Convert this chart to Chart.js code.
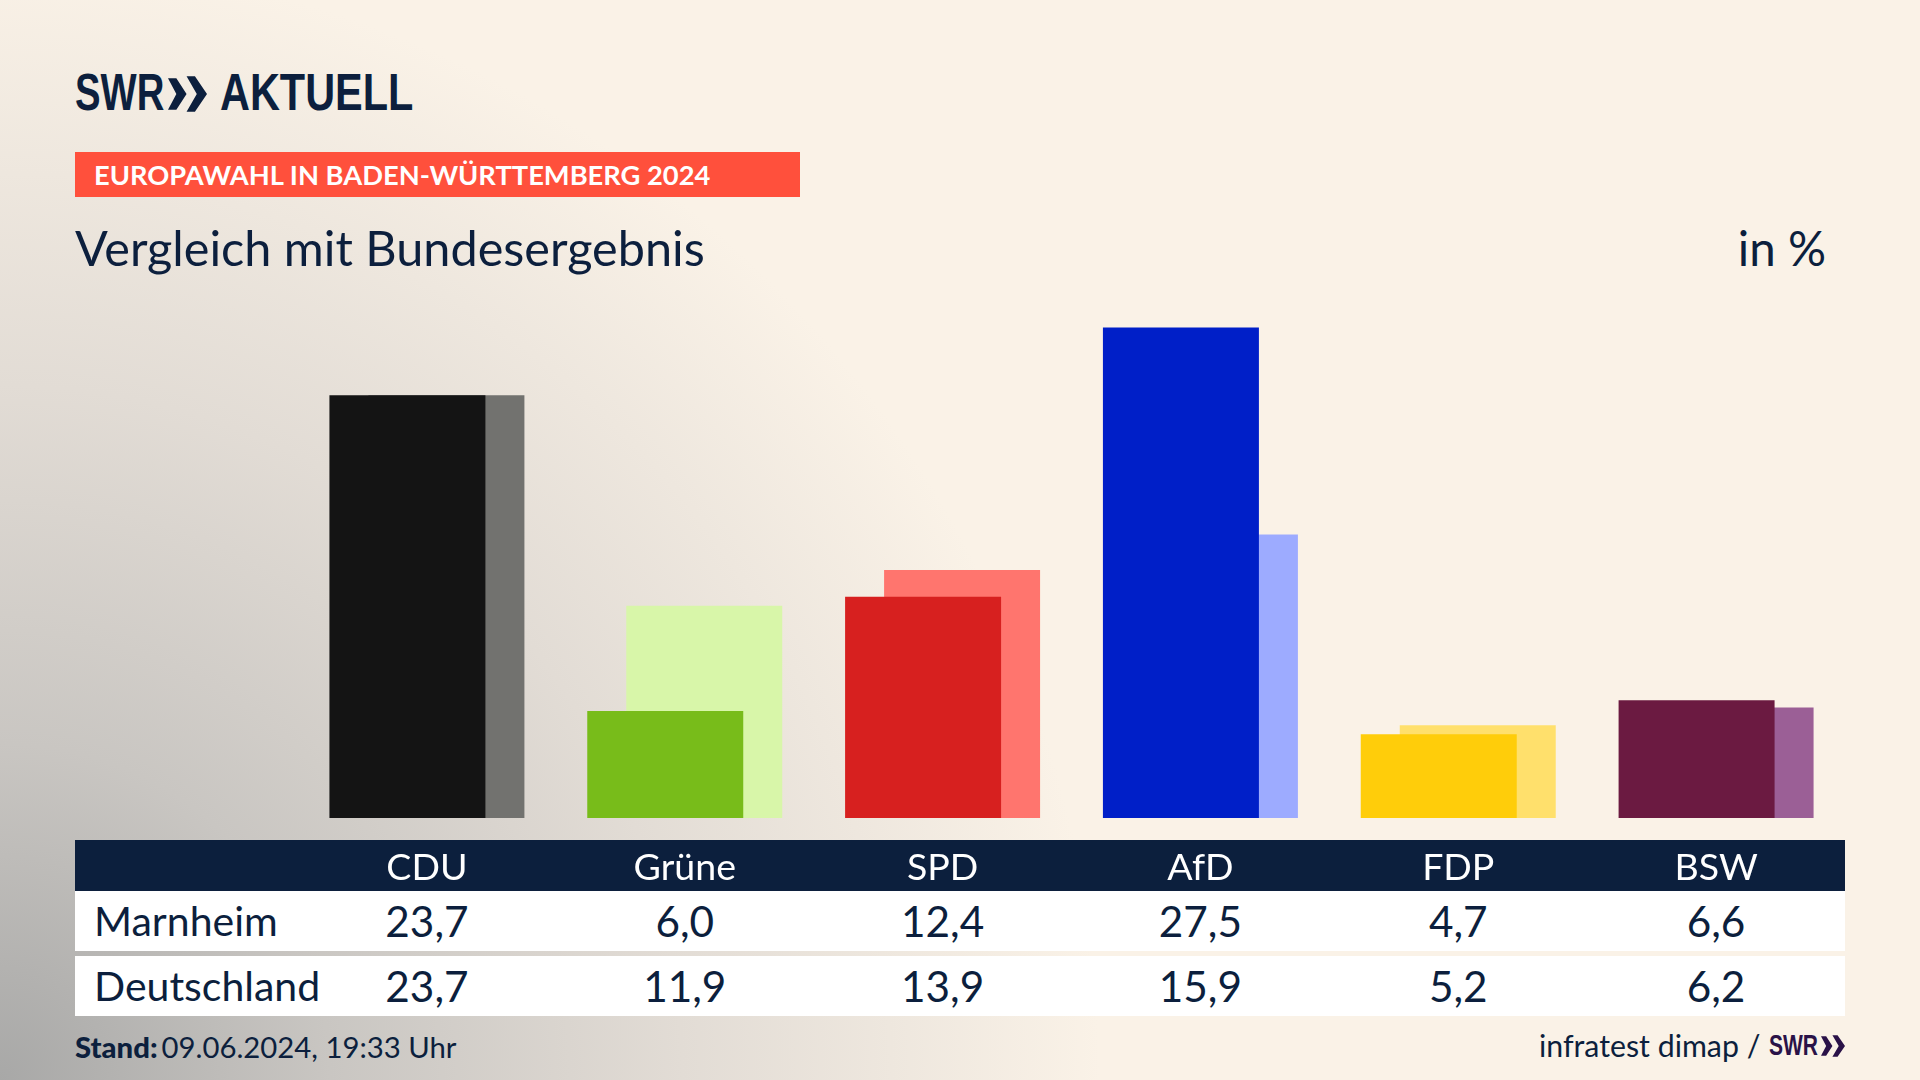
<!DOCTYPE html>
<html lang="de">
<head>
<meta charset="utf-8">
<title>Europawahl in Baden-Württemberg 2024</title>
<script src="https://cdn.jsdelivr.net/npm/chart.js@4"></script>
<style>
  html, body { margin: 0; padding: 0; }
  body {
    position: relative; width: 1920px; height: 1080px; overflow: hidden;
    color: #0c1f3d; font-family: Lato, sans-serif;
    background: radial-gradient(ellipse 1100px 1120px at 0 1080px, #a8a8a7 0, #c9c6c2 30%, #e2dcd5 62%, #faf2e7 100%) #faf2e7;
  }
  .abs { position: absolute; white-space: nowrap; }
  #chart { position: absolute; left: 0; top: 0; z-index: 2; }
  .logo { top: 62px; font: bold 52px/60px "Liberation Sans", sans-serif; transform-origin: left center; }
  #kicker {
    left: 75px; top: 152px; width: 706px; height: 45px; padding-left: 19px;
    background: #ff503c; color: #fff; font: bold 27.3px/45px Lato, sans-serif;
  }
  #title { left: 75px; top: 217px; font-size: 48.6px; line-height: 60px; }
  #unit { right: 94px; top: 218px; font-size: 47.5px; line-height: 60px; }
  #band { left: 75px; top: 840px; width: 1770px; height: 51px; background: #0c1f3d; }
  .row { position: absolute; left: 75px; width: 1770px; height: 60px; background: #fff; }
  .row span { position: absolute; top: 0; line-height: 60px; font-size: 42.3px; }
  .row .name { left: 19px; font-size: 41px; }
  .row .val { width: 257.83px; text-align: center; }
  #stand { left: 75px; top: 1029px; font-size: 29.3px; line-height: 36px; }
  #stand b { font-weight: 900; margin-right: 4px; }
  #source { left: 1539px; top: 1027px; font-size: 30.3px; line-height: 36px; }
  #sourceLogo { left: 1769px; top: 1027px; font: bold 30px/36px "Liberation Sans", sans-serif; color: #2a1248; transform: scaleX(0.7); transform-origin: left center; }
  #sourceArrows { left: 1821px; top: 1035px; }
</style>
</head>
<body>
<div class="abs logo" style="left:75px;transform:scaleX(0.736)">SWR</div>
<svg class="abs" style="left:168px;top:75px" width="39" height="38" viewBox="0 0 42 38"><path fill="#0c1f3d" d="M0 2 9 2 20 19 9 36 0 36 9 19ZM20 0 29 0 42 19 29 38 20 38 31 19Z"/></svg>
<div class="abs logo" style="left:220px;transform:scaleX(0.797)">AKTUELL</div>
<div class="abs" id="kicker">EUROPAWAHL IN BADEN-WÜRTTEMBERG 2024</div>
<div class="abs" id="title">Vergleich mit Bundesergebnis</div>
<div class="abs" id="unit">in %</div>
<div class="abs" id="band"></div>
<div id="rows"></div>
<div class="abs" id="stand"><b>Stand:</b>09.06.2024, 19:33 Uhr</div>
<div class="abs" id="source">infratest dimap /</div>
<div class="abs" id="sourceLogo">SWR</div>
<svg class="abs" id="sourceArrows" width="24" height="22" viewBox="0 0 42 38"><path fill="#2a1248" d="M0 2 9 2 20 19 9 36 0 36 9 19ZM20 0 29 0 42 19 29 38 20 38 31 19Z"/></svg>
<canvas id="chart" width="1920" height="1080"></canvas>
<script>
"use strict";

const parties = ["CDU", "Grüne", "SPD", "AfD", "FDP", "BSW"];
const marnheim = [23.7, 6.0, 12.4, 27.5, 4.7, 6.6];
const deutschland = [23.7, 11.9, 13.9, 15.9, 5.2, 6.2];
const marnheimColors = ["#141414", "#78bc1a", "#d7201f", "#001fc8", "#ffcd0a", "#6b1a41"];
const deutschlandColors = ["#72726f", "#d8f6a9", "#ff756e", "#9dabff", "#ffe06c", "#9b5f96"];

const comma = value => value.toFixed(1).replace(".", ",");

// table rows under the bars
const addRow = (name, values, top) => {
  const row = document.createElement("div");
  row.className = "row";
  row.style.top = top + "px";
  row.innerHTML = `<span class="name">${name}</span>`;
  values.forEach((value, i) => {
    const cell = document.createElement("span");
    cell.className = "val";
    cell.style.left = 223 + i * 257.83 + "px";
    cell.textContent = comma(value);
    row.appendChild(cell);
  });
  document.getElementById("rows").appendChild(row);
};
addRow("Marnheim", marnheim, 891);
addRow("Deutschland", deutschland, 956);

Chart.defaults.devicePixelRatio = 1;

// barPercentage above 1 makes the two grouped bars overlap
const barOptions = { categoryPercentage: 0.3025, barPercentage: 4.0, borderWidth: 0 };

new Chart(document.getElementById("chart").getContext("2d"), {
  type: "bar",
  data: {
    labels: parties,
    datasets: [
      { label: "Marnheim", data: marnheim, backgroundColor: marnheimColors, ...barOptions },
      { label: "Deutschland", data: deutschland, backgroundColor: deutschlandColors, ...barOptions }
    ]
  },
  options: {
    responsive: false,
    animation: false,
    layout: { padding: { left: 298, right: 75, top: 283, bottom: 191 } },
    plugins: { legend: { display: false }, tooltip: { enabled: false } },
    scales: {
      x: {
        grid: { display: false },
        border: { display: false },
        afterFit: scale => { scale.height = 71; },
        ticks: {
          color: "#ffffff",
          padding: 19,
          maxRotation: 0,
          font: { family: "Lato", size: 37.5, lineHeight: 1.2 }
        }
      },
      y: { display: false, min: 0, max: 30 }
    }
  }
});
</script>
</body>
</html>
